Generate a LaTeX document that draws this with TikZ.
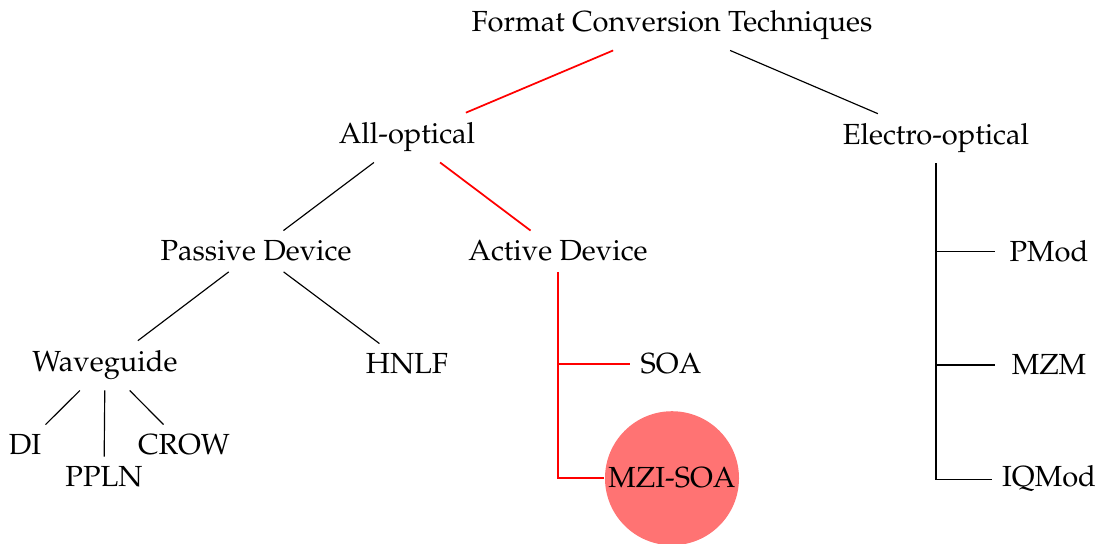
\documentclass[tikz,border=0pt]{standalone}
\usepackage[T1]{fontenc}
\usepackage{mathpazo}
\begin{document}
\begin{tikzpicture}[x=0.344pt,y=-0.344pt,
  every node/.style={anchor=base},
  leafnode/.style={minimum width=36.5pt},
  picknode/.style={circle,fill=red!55,minimum size=46.1pt,inner sep=0pt},
  pick/.style={red,semithick}]

\useasboundingbox (0,0) rectangle (1103,544);

\node (root) at (672,32) {Format Conversion Techniques};
\node (allopt) at (407,144) {All-optical};
\node (elopt) at (936,145) {Electro-optical};

\node (passive) at (256,261) {Passive Device};
\node (active) at (558,261) {Active Device};

\node (wg) at (105,372) {Waveguide};
\node (hnlf) at (407,374) {HNLF};
\node (di) at (25,455) {DI};
\node (ppln) at (104,487) {PPLN};
\node (crow) at (184,455) {CROW};

\node (soa) at (671,374) {SOA};
\node[picknode] (mzisoa) at (672,488) {MZI-SOA};

\node[leafnode] (pmod) at (1049,262) {PMod};
\node[leafnode] (mzm) at (1049,375) {MZM};
\node[leafnode] (iqmod) at (1049,487) {IQMod};

\draw[pick] (root) -- (allopt);
\draw (root) -- (elopt);
\draw (allopt) -- (passive);
\draw[pick] (allopt) -- (active);
\draw (passive) -- (wg);
\draw (passive) -- (hnlf);
\draw (wg) -- (di);
\draw (wg) -- (ppln);
\draw (wg) -- (crow);

\draw[pick] (active.south) |- (mzisoa.west);
\draw[pick] (active.south |- soa.west) -- (soa.west);

\draw (elopt.south) |- (iqmod.west);
\foreach \m in {pmod,mzm}
  \draw (elopt.south |- \m.west) -- (\m.west);
\end{tikzpicture}
\end{document}
